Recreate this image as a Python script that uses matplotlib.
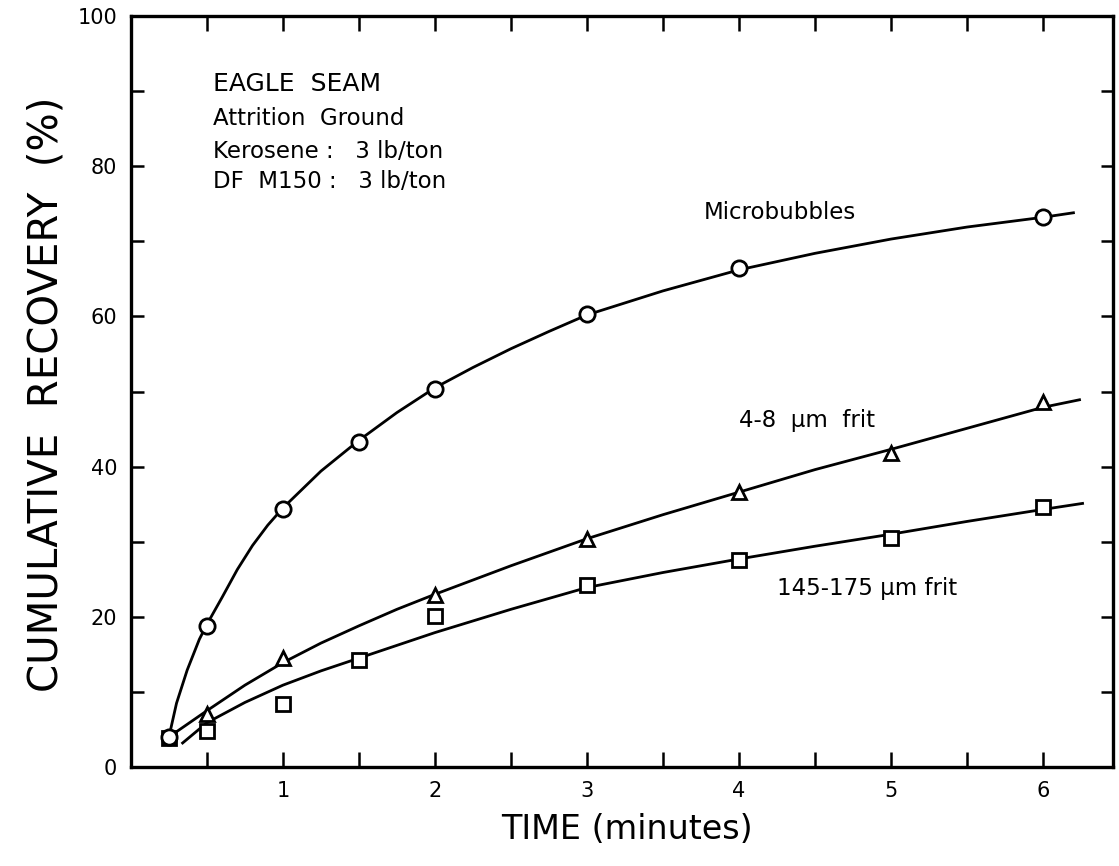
import matplotlib
matplotlib.use('Agg')
import matplotlib.pyplot as plt
from matplotlib.ticker import MultipleLocator, FixedLocator

# measured points
t_micro = [0.25, 0.5, 1, 1.5, 2, 3, 4, 6]
r_micro = [4.0, 18.8, 34.4, 43.3, 50.3, 60.3, 66.4, 73.2]
t_fine = [0.5, 1, 2, 3, 4, 5, 6]
r_fine = [7.1, 14.5, 22.9, 30.4, 36.6, 41.8, 48.6]
t_coarse = [0.25, 0.5, 1, 1.5, 2, 3, 4, 5, 6]
r_coarse = [3.9, 4.8, 8.4, 14.2, 20.1, 24.2, 27.6, 30.5, 34.6]

# hand drawn fit curves
ct_micro = [0.25, 0.3, 0.37, 0.45, 0.5, 0.6, 0.7, 0.8, 0.9, 1, 1.25, 1.5, 1.75,
            2, 2.25, 2.5, 2.75, 3, 3.5, 4, 4.5, 5, 5.5, 6, 6.2]
cr_micro = [4.0, 8.5, 12.9, 17.0, 19.0, 22.6, 26.3, 29.5, 32.2, 34.5, 39.4, 43.5, 47.2,
            50.5, 53.2, 55.7, 58.0, 60.2, 63.4, 66.2, 68.4, 70.3, 71.9, 73.2, 73.8]
ct_fine = [0.25, 0.5, 0.75, 1, 1.25, 1.5, 1.75, 2, 2.5, 3, 3.5, 4, 4.5, 5, 5.5, 6, 6.24]
cr_fine = [4.0, 7.5, 10.9, 13.9, 16.5, 18.8, 21.0, 23.0, 26.8, 30.4, 33.6, 36.6, 39.6, 42.3, 45.1, 47.9, 48.9]
ct_coarse = [0.34, 0.5, 0.75, 1, 1.25, 1.5, 1.75, 2, 2.5, 3, 3.5, 4, 4.5, 5, 5.5, 6, 6.26]
cr_coarse = [3.2, 5.9, 8.6, 10.9, 12.8, 14.5, 16.2, 17.9, 21.0, 23.9, 25.9, 27.7, 29.4, 31.0, 32.7, 34.3, 35.1]

xticks = [1, 2, 3, 4, 5, 6]
yticks = [0, 20, 40, 60, 80, 100]

fig = plt.figure(figsize=(11.19, 8.66), dpi=100)
ax = fig.add_axes([0.117, 0.1143, 0.8776, 0.8672])

lw = 2.0
ax.plot(ct_micro, cr_micro, color='black', lw=lw)
ax.plot(ct_fine, cr_fine, color='black', lw=lw)
ax.plot(ct_coarse, cr_coarse, color='black', lw=lw)
ax.plot(t_coarse, r_coarse, ls='none', marker='s', ms=10, mfc='white', mec='black', mew=2)
ax.plot(t_fine, r_fine, ls='none', marker='^', ms=10, mfc='white', mec='black', mew=2)
ax.plot(t_micro, r_micro, ls='none', marker='o', ms=11, mfc='white', mec='black', mew=2)

ax.set_xlim(0, 6.46)
ax.set_ylim(0, 100)
ax.xaxis.set_major_locator(FixedLocator(xticks))
ax.xaxis.set_minor_locator(FixedLocator([0.5, 1.5, 2.5, 3.5, 4.5, 5.5]))
ax.set_xticklabels([str(v) for v in xticks])
ax.yaxis.set_major_locator(FixedLocator(yticks))
ax.yaxis.set_minor_locator(MultipleLocator(10))
ax.set_yticklabels([str(v) for v in yticks])

ax.tick_params(which='both', direction='in', top=True, right=True, width=1.8,
               labelsize=15, pad=10)
ax.tick_params(axis='x', which='both', length=11)
ax.tick_params(axis='y', which='both', length=9)
for s in ax.spines.values():
    s.set_linewidth(2.4)

fig.text(0.56, 0.042, 'TIME (minutes)', fontsize=24, ha='center', va='center')
fig.text(0.042, 0.545, 'CUMULATIVE  RECOVERY  (%)', fontsize=29, rotation=90,
         ha='center', va='center')

ax.text(0.54, 90.9, 'EAGLE  SEAM', fontsize=18, va='center')
ax.text(0.54, 86.4, 'Attrition  Ground', fontsize=16.5, va='center')
ax.text(0.54, 81.9, 'Kerosene :   3 lb/ton', fontsize=16.5, va='center')
ax.text(0.54, 77.9, 'DF  M150 :   3 lb/ton', fontsize=16.5, va='center')

ax.text(4.27, 73.8, 'Microbubbles', fontsize=16.5, ha='center', va='center')
ax.text(4.45, 46.1, '4-8  µm  frit', fontsize=16.5, ha='center', va='center')
ax.text(4.84, 23.8, '145-175 µm frit', fontsize=16.5, ha='center', va='center')

fig.savefig('out.png', dpi=100)
